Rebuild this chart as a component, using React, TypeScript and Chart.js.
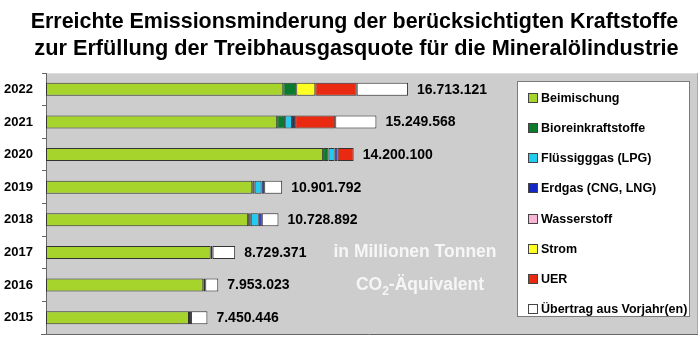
import React, { useEffect, useRef } from "react";
import { Chart, registerables } from "chart.js";

Chart.register(...registerables);

const years = ["2022", "2021", "2020", "2019", "2018", "2017", "2016", "2015"];
const beimischung = [10.95, 10.67, 12.79, 9.52, 9.33, 7.6, 7.26, 6.6];
const bioreinkraftstoffe = [0.6, 0.37, 0.25, 0.11, 0.12, 0.09, 0.09, 0.09];
const fluessiggas = [0, 0.31, 0.28, 0.32, 0.37, 0, 0, 0];
const erdgas = [0, 0.15, 0.14, 0.12, 0.14, 0, 0, 0];
const wasserstoff = [0, 0, 0, 0, 0, 0, 0, 0];
const strom = [0.88, 0, 0, 0, 0, 0, 0, 0];
const uer = [1.91, 1.85, 0.74, 0, 0, 0, 0, 0];
const uebertrag = [2.37, 1.9, 0, 0.83, 0.77, 1.04, 0.6, 0.76];
const totalLabels = [
  "16.713.121",
  "15.249.568",
  "14.200.100",
  "10.901.792",
  "10.728.892",
  "8.729.371",
  "7.953.023",
  "7.450.446",
];

const titleLines = [
  "Erreichte Emissionsminderung der berücksichtigten Kraftstoffe",
  "zur Erfüllung der Treibhausgasquote für die Mineralölindustrie",
];

const seriesNames = [
  "Beimischung",
  "Bioreinkraftstoffe",
  "Flüssigggas (LPG)",
  "Erdgas (CNG, LNG)",
  "Wasserstoff",
  "Strom",
  "UER",
  "Übertrag aus Vorjahr(en)",
];
const seriesValues = [beimischung, bioreinkraftstoffe, fluessiggas, erdgas, wasserstoff, strom, uer, uebertrag];
const seriesColors = ["#a6d42c", "#0a7a2c", "#22ccf0", "#1428c8", "#f8b4d4", "#ffff22", "#ea2a10", "#ffffff"];

const FONT = 'Arial, "Liberation Sans", Helvetica, sans-serif';

const decorPlugin = {
  id: "decor",
  beforeDraw(chart: any) {
    const ctx = chart.ctx;
    const W = chart.width;
    ctx.save();
    ctx.fillStyle = "#ffffff";
    ctx.fillRect(0, 0, W, chart.height);
    // gray plot panel
    const ca = chart.chartArea;
    ctx.fillStyle = "#cdcdcd";
    ctx.fillRect(ca.left, ca.top, 698 - ca.left, ca.bottom - ca.top);
    ctx.fillStyle = "#dedede";
    ctx.fillRect(ca.left, ca.top, 698 - ca.left, 1);
    ctx.fillStyle = "#a8a8a8";
    ctx.fillRect(697, ca.top, 1, ca.bottom - ca.top);
    // title
    ctx.fillStyle = "#000000";
    ctx.textAlign = "center";
    ctx.textBaseline = "alphabetic";
    ctx.font = `bold 20px ${FONT}`;
    const w1 = ctx.measureText(titleLines[0]).width;
    const w2 = ctx.measureText(titleLines[1]).width;
    ctx.font = `bold ${(20 * 648) / w1}px ${FONT}`;
    ctx.fillText(titleLines[0], 354.5, 28);
    ctx.font = `bold ${(20 * 645) / w2}px ${FONT}`;
    ctx.fillText(titleLines[1], 356.5, 55);
    ctx.restore();
  },
  afterDraw(chart: any) {
    const ctx = chart.ctx;
    const ca = chart.chartArea;
    const xs = chart.scales.x;
    const ys = chart.scales.y;
    ctx.save();
    // bottom axis line
    ctx.strokeStyle = "#666666";
    ctx.lineWidth = 1;
    ctx.beginPath();
    ctx.moveTo(41, ca.bottom + 0.5);
    ctx.lineTo(698, ca.bottom + 0.5);
    ctx.stroke();

    // value labels
    ctx.fillStyle = "#000000";
    ctx.font = `bold 14px ${FONT}`;
    ctx.textAlign = "left";
    ctx.textBaseline = "middle";
    years.forEach((_, i) => {
      let sum = 0;
      seriesValues.forEach((s) => (sum += s[i]));
      const x = xs.getPixelForValue(sum) + 9;
      const y = ys.getPixelForValue(i);
      ctx.fillText(totalLabels[i], x, y + 0.5);
    });

    // unit annotation
    ctx.fillStyle = "#f6f6f6";
    ctx.font = `bold 17.5px ${FONT}`;
    ctx.textAlign = "center";
    ctx.textBaseline = "alphabetic";
    ctx.fillText("in Millionen Tonnen", 415, 257);
    const partA = "CO";
    const partB = "2";
    const partC = "-Äquivalent";
    ctx.font = `bold 17.5px ${FONT}`;
    const wa = ctx.measureText(partA).width;
    const wc = ctx.measureText(partC).width;
    ctx.font = `bold 12px ${FONT}`;
    const wb = ctx.measureText(partB).width;
    const total = wa + wb + wc;
    const x0 = 420 - total / 2;
    ctx.textAlign = "left";
    ctx.font = `bold 17.5px ${FONT}`;
    ctx.fillText(partA, x0, 290);
    ctx.font = `bold 12px ${FONT}`;
    ctx.fillText(partB, x0 + wa, 295);
    ctx.font = `bold 17.5px ${FONT}`;
    ctx.fillText(partC, x0 + wa + wb, 290);

    // legend box
    ctx.fillStyle = "#ffffff";
    ctx.fillRect(517.5, 81.5, 172, 235);
    ctx.strokeStyle = "#7a7a7a";
    ctx.lineWidth = 1;
    ctx.strokeRect(517.5, 81.5, 172, 235);
    ctx.font = `bold 12.5px ${FONT}`;
    ctx.textBaseline = "middle";
    ctx.textAlign = "left";
    seriesNames.forEach((name, i) => {
      const cy = Math.round(97.7 + 30.2 * i);
      ctx.fillStyle = seriesColors[i];
      ctx.fillRect(528.5, cy - 4.5, 9, 9);
      ctx.strokeStyle = "#444444";
      ctx.strokeRect(528.5, cy - 4.5, 9, 9);
      ctx.fillStyle = "#000000";
      ctx.fillText(name, 541, cy + 0.5);
    });
    ctx.restore();
  },
};

export default function App() {
  const ref = useRef<HTMLCanvasElement | null>(null);
  useEffect(() => {
    document.body.style.margin = "0";
    const canvas = ref.current;
    if (!canvas) return;
    const chart = new Chart(canvas, {
      type: "bar",
      data: {
        labels: years,
        datasets: seriesNames.map((name, i) => ({
          label: name,
          data: seriesValues[i],
          backgroundColor: seriesColors[i],
          borderColor: "#333333",
          borderWidth: (c: any) => (c.raw > 0 ? 1 : 0),
          borderSkipped: false,
          barPercentage: 0.4,
          categoryPercentage: 1,
        })),
      },
      options: {
        indexAxis: "y",
        responsive: false,
        animation: false,
        devicePixelRatio: 1,
        layout: { padding: { top: 73, bottom: 23, left: 0, right: 4 } },
        plugins: {
          legend: { display: false },
          title: { display: false },
          tooltip: { enabled: false },
        },
        scales: {
          x: { display: false, stacked: true, min: 0, max: 30 },
          y: {
            stacked: true,
            offset: true,
            afterFit: (s: any) => {
              s.width = 46;
            },
            grid: {
              display: true,
              drawOnChartArea: false,
              drawTicks: true,
              tickLength: 4,
              color: "#666666",
              offset: true,
            },
            border: { display: true, color: "#666666" },
            ticks: {
              color: "#000000",
              padding: 9,
              font: { family: FONT, size: 13, weight: "bold" },
            },
          },
        },
      },
      plugins: [decorPlugin],
    } as any);
    return () => chart.destroy();
  }, []);
  return <canvas ref={ref} width={700} height={357} style={{ display: "block" }} />;
}
